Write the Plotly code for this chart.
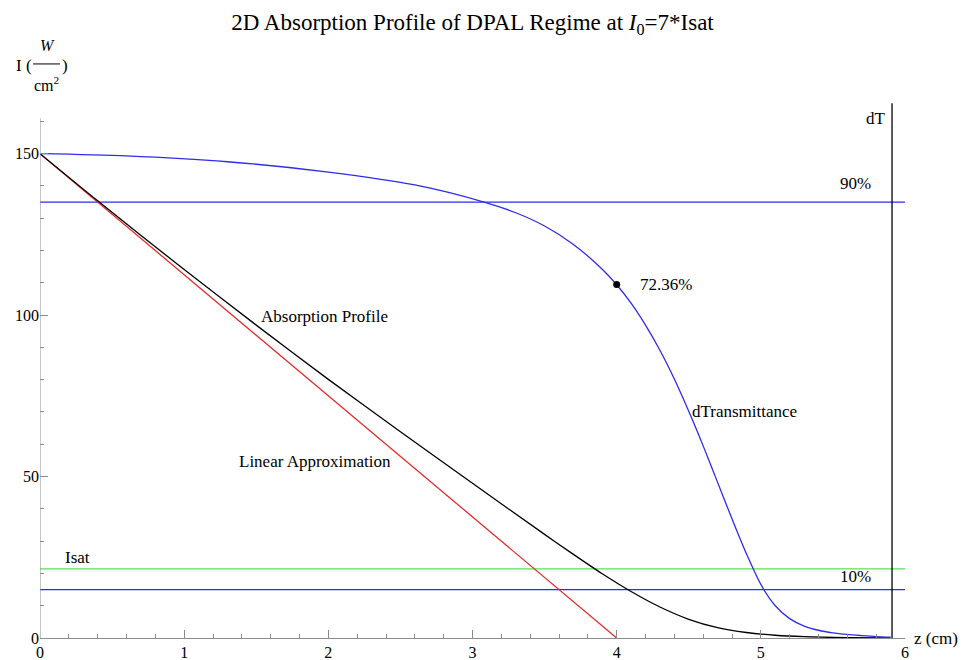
import plotly.graph_objects as go

# ---- data ----
abs_z = [0, 0.4, 1.0, 1.5, 2.0, 2.5, 3.0, 3.5, 3.7, 3.9, 4.1, 4.3, 4.5, 4.7, 4.9, 5.1, 5.3, 5.6, 5.9]
abs_I = [150, 135.4, 114.1, 96.9, 80.1, 63.9, 47.9, 32.1, 25.9, 19.9, 14.4, 9.6, 5.8, 3.2, 1.7, 0.85, 0.4, 0.1, 0.0]

lin_z = [0, 4]
lin_I = [150, 0]

dt_z = [0, 0.6, 1.3, 2.0, 2.6, 3.08, 3.3, 3.5, 3.7, 3.9, 4.0, 4.1, 4.2, 4.3, 4.4, 4.5, 4.6,
        4.7, 4.8, 4.9, 5.0, 5.1, 5.2, 5.3, 5.4, 5.5, 5.6, 5.7, 5.8, 5.9]
dt_I = [150, 149.3, 147.5, 144.3, 140.3, 135.0, 131.7, 127.6, 121.9, 114.2, 109.4, 103.7, 96.9,
        89.1, 80.2, 70.2, 59.5, 48.2, 36.9, 26.1, 16.6, 10.0, 6.0, 3.7, 2.4, 1.6, 1.1, 0.75, 0.45, 0.25]

point_z = [4.0]
point_I = [109.5]

level_90 = 135.0
level_10 = 15.0
level_isat = 21.43
dT_z = 5.91
dT_top = 165.6

x_ticks = [0, 1, 2, 3, 4, 5, 6]
y_ticks = [0, 50, 100, 150]

FONT = "Liberation Serif, Times New Roman, serif"
BLUE = "rgb(45,45,235)"
GREEN = "rgb(90,225,90)"
RED = "rgb(228,45,45)"
AXIS = "rgb(140,140,140)"

fig = go.Figure()

for lvl, col in [(level_90, BLUE), (level_10, BLUE), (level_isat, GREEN)]:
    fig.add_trace(go.Scatter(x=[0, 6], y=[lvl, lvl], mode="lines",
                             line=dict(color=col, width=1.3), hoverinfo="skip"))

fig.add_trace(go.Scatter(x=lin_z, y=lin_I, mode="lines", line=dict(color=RED, width=1.3)))
fig.add_trace(go.Scatter(x=abs_z, y=abs_I, mode="lines",
                         line=dict(color="black", width=1.3, shape="spline", smoothing=0.8)))
fig.add_trace(go.Scatter(x=dt_z, y=dt_I, mode="lines",
                         line=dict(color=BLUE, width=1.3, shape="spline", smoothing=0.8)))
fig.add_trace(go.Scatter(x=[dT_z, dT_z], y=[0, dT_top], mode="lines", line=dict(color="black", width=1.3)))
fig.add_trace(go.Scatter(x=point_z, y=point_I, mode="markers", marker=dict(color="black", size=7)))


def ann(x, y, text, xanchor="center", size=17, xref="x", yref="y"):
    fig.add_annotation(x=x, y=y, text=text, showarrow=False, xanchor=xanchor,
                       yanchor="middle", xref=xref, yref=yref,
                       font=dict(family=FONT, size=size, color="black"))


ann(1.97, 99.7, "Absorption Profile")
ann(1.91, 54.6, "Linear Approximation")
ann(4.89, 70.3, "dTransmittance")
ann(4.15, 109.6, "72.36%", xanchor="left")
ann(5.66, 140.8, "90%")
ann(5.66, 19.0, "10%")
ann(0.26, 24.9, "Isat")
ann(5.8, 161.0, "dT")
# x-axis label
ann(1.008, 0, "z (cm)", xanchor="left", xref="paper", yref="y")
# y-axis label pieces: I (W / cm^2)
ann(-0.0069, 1.069, "I (", xanchor="right", xref="paper", yref="paper")
ann(0.0231, 1.069, ")", xanchor="left", xref="paper", yref="paper")
ann(0.0081, 1.106, "<i>W</i>", xref="paper", yref="paper", size=16)
ann(0.0070, 1.0335, "cm<sup>2</sup>", xref="paper", yref="paper", size=16)
fig.add_shape(type="line", xref="paper", yref="paper", x0=-0.0081, x1=0.0231,
              y0=1.071, y1=1.071, line=dict(color="black", width=1))
# y axis line (shorter than plot area, as in the reference)
fig.add_shape(type="line", xref="x", yref="y", x0=0, x1=0, y0=0, y1=161,
              line=dict(color=AXIS, width=1))

W, H = 960, 652  # page body has an 8px margin; keep the figure inside the 968x660 window
fig.update_layout(
    width=W, height=H,
    margin=dict(l=32, r=63, t=94, b=21.5),
    paper_bgcolor="white", plot_bgcolor="white",
    showlegend=False,
    title=dict(text="2D Absorption Profile of DPAL Regime at <i>I</i><sub>0</sub>=7*Isat",
               x=0.5, xref="paper", y=1 - 14 / H, yanchor="middle", yref="container",
               font=dict(family=FONT, size=23, color="black")),
    font=dict(family=FONT, size=16, color="black"),
)
fig.update_xaxes(range=[0, 6], tickvals=x_ticks, showgrid=False, zeroline=False, automargin=False,
                 showline=True, linecolor=AXIS, linewidth=1,
                 ticks="inside", ticklen=8, tickcolor=AXIS,
                 minor=dict(dtick=0.2, ticks="inside", ticklen=4, tickcolor=AXIS, showgrid=False),
                 tickfont=dict(family=FONT, size=16))
fig.update_yaxes(range=[0, 166], tickvals=y_ticks, showgrid=False, zeroline=False, automargin=False,
                 showline=False,
                 ticks="inside", ticklen=8, tickcolor=AXIS,
                 minor=dict(dtick=10, ticks="inside", ticklen=4, tickcolor=AXIS, showgrid=False),
                 tickfont=dict(family=FONT, size=16))

fig.write_html("out.html")
